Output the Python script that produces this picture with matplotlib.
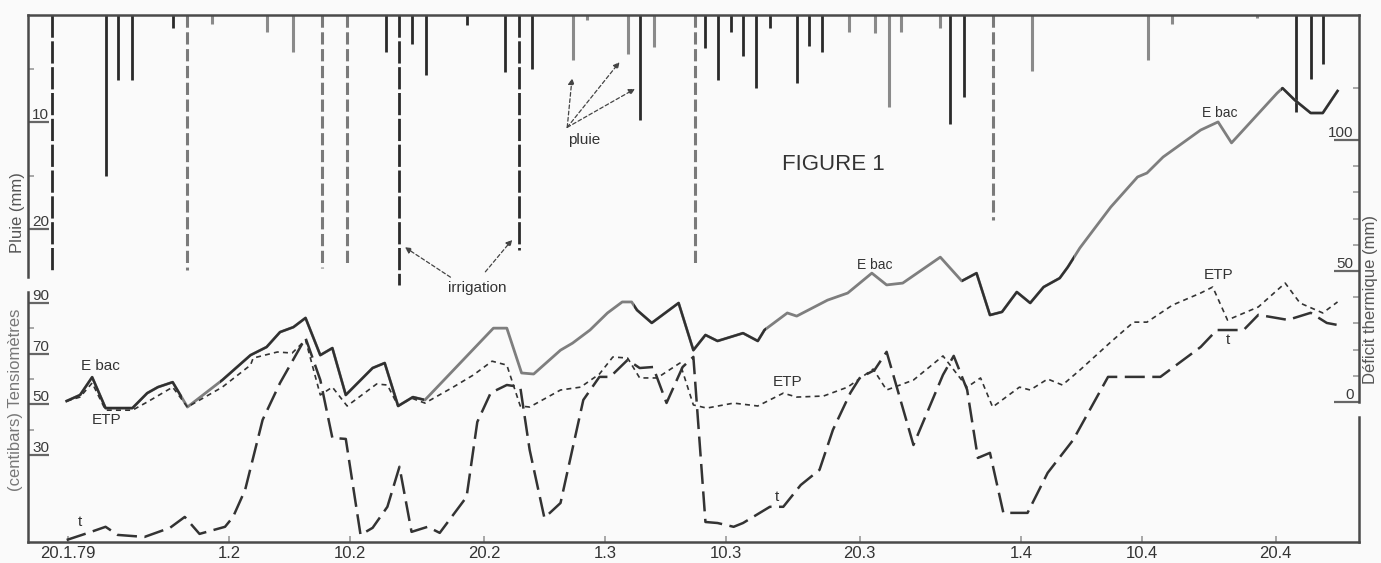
import matplotlib
matplotlib.use("Agg")
import matplotlib.pyplot as plt
from matplotlib.patches import Rectangle

plt.rcParams['font.family'] = ['Liberation Sans', 'DejaVu Sans']

# ---------------- data (x in days after 20.1.79) ----------------
tick_days = [0, 12, 21, 31, 40, 49, 59, 71, 80, 90]
tick_labels = ["20.1.79", "1.2", "10.2", "20.2", "1.3", "10.3", "20.3", "1.4", "10.4", "20.4"]

# rain (mm), dark bars
rain_dark_day = [2.8, 3.7, 4.8, 7.8, 23.7, 25.6, 26.7, 29.7, 32.6, 34.6, 42.6, 47.5, 48.4,
                 49.4, 50.3, 51.3, 52.3, 54.3, 55.2, 56.2, 65.7, 66.8, 91.5, 92.6, 93.5]
rain_dark_mm = [15.0, 6.1, 6.1, 1.2, 3.5, 2.7, 5.6, 0.9, 5.3, 5.0, 9.8, 3.1, 6.1,
                1.6, 3.8, 6.8, 1.2, 6.4, 2.9, 3.5, 10.2, 7.7, 9.1, 6.0, 4.6]
# rain (mm), grey bars
rain_grey_day = [10.7, 14.8, 16.8, 37.6, 38.7, 41.7, 43.7, 58.2, 60.1, 61.2, 62.1, 65.0,
                 71.8, 80.5, 82.3, 88.6]
rain_grey_mm = [0.8, 1.6, 3.5, 4.2, 0.5, 3.6, 3.0, 1.6, 1.7, 8.6, 1.6, 1.2,
                5.2, 4.2, 0.8, 0.3]
# irrigation (mm)
irrig_dark_day = [-1.2, 24.7, 33.6]
irrig_dark_mm = [23.8, 25.2, 22.0]
irrig_grey_day = [8.9, 18.9, 20.8, 46.7, 68.9]
irrig_grey_mm = [23.8, 23.6, 23.4, 23.2, 19.2]

# E bac cumulative deficit (mm)
ebac_day = [-0.1, 0.9, 1.8, 2.8, 4.8, 5.9, 6.7, 7.8, 8.9, 11.5, 13.6, 14.8, 15.8, 16.8, 17.7,
            18.8, 19.7, 20.7, 22.7, 23.6, 24.6, 25.7, 26.6, 31.7, 32.7, 33.8, 34.7, 36.7,
            37.6, 38.9, 40.2, 41.3, 42.0, 42.4, 43.5, 45.5, 46.6, 47.5, 48.4, 50.3, 51.4,
            51.9, 53.6, 54.3, 56.6, 58.1, 59.9, 61.0, 62.2, 65.0, 66.6, 67.7, 68.7, 69.6,
            70.7, 71.7, 72.7, 73.9, 74.5, 75.4, 76.4, 77.7, 79.7, 80.4, 81.6, 84.4, 85.7,
            86.7, 90.1, 90.5, 91.4, 92.6, 93.5, 94.6]
ebac_mm = [0.4, 2.7, 9.5, -2.3, -2.3, 3.4, 5.7, 7.6, -1.9, 8.4, 17.9, 21.0, 26.7, 28.6, 32.1,
           17.9, 20.6, 2.7, 13.0, 14.9, -1.5, 1.9, 0.8, 28.2, 28.2, 11.1, 10.7, 19.8,
           22.5, 27.5, 34.0, 38.2, 38.2, 35.1, 30.2, 37.8, 19.8, 25.6, 23.3, 26.3, 23.3,
           27.5, 34.0, 32.8, 38.9, 41.6, 49.2, 44.7, 45.4, 55.3, 46.2, 49.2, 33.2, 34.4,
           42.0, 37.8, 43.9, 47.3, 51.5, 58.8, 65.6, 74.4, 85.9, 87.4, 93.5, 103.8, 106.9,
           98.9, 117.9, 119.8, 115.3, 110.3, 110.3, 118.7]

# ETP cumulative deficit (mm)
etp_day = [-0.1, 0.9, 1.8, 2.8, 4.8, 5.9, 7.8, 8.9, 11.5, 13.6, 13.8, 15.6, 16.7, 17.7, 18.8,
           19.7, 20.8, 21.9, 23.0, 23.8, 24.6, 25.6, 26.6, 28.7, 30.2, 31.6, 32.7, 33.7,
           34.4, 36.7, 38.2, 39.6, 40.6, 41.7, 42.6, 43.9, 45.6, 46.6, 47.6, 49.6, 51.4,
           53.3, 54.3, 56.3, 58.1, 60.0, 61.0, 63.0, 65.2, 67.0, 68.0, 68.9, 70.9, 71.7,
           73.0, 74.1, 75.4, 77.7, 79.4, 80.4, 82.3, 84.4, 85.3, 86.4, 88.7, 90.7, 91.8,
           93.5, 94.6]
etp_mm = [0.4, 1.9, 7.3, -3.1, -3.1, 0.0, 5.7, -1.9, 5.7, 14.1, 16.8, 19.1, 18.7, 23.7, 2.7,
          5.7, -1.5, 2.7, 6.9, 6.5, -1.5, 1.5, -0.4, 5.7, 10.3, 15.6, 14.1, -1.5,
          -1.9, 4.6, 5.7, 10.7, 17.2, 16.8, 9.2, 9.2, 14.9, -1.1, -2.3, -0.4, -1.5,
          3.4, 1.9, 2.3, 5.7, 12.6, 4.6, 8.4, 17.6, 5.7, 9.2, -1.9, 5.7, 4.6,
          8.8, 6.5, 12.2, 22.9, 30.5, 30.5, 37.0, 41.6, 43.9, 31.3, 36.3, 45.4, 37.8,
          34.0, 38.2]

# tensiometer t (centibars)
t_day = [-0.1, 1.5, 2.8, 3.7, 5.7, 7.6, 8.7, 9.8, 11.7, 12.3, 13.2, 14.5, 15.8, 17.7, 18.8,
         19.7, 20.7, 21.8, 22.7, 23.8, 24.7, 25.6, 26.8, 27.7, 29.7, 30.5, 31.5, 32.7,
         33.7, 34.4, 35.5, 36.7, 38.4, 39.6, 40.4, 41.7, 42.6, 43.6, 44.6, 45.8, 46.6,
         47.5, 48.4, 49.6, 50.3, 52.3, 53.3, 54.6, 56.0, 57.0, 58.3, 59.0, 60.1, 61.0,
         63.0, 65.2, 66.0, 67.0, 67.8, 68.7, 69.7, 71.5, 73.0, 74.9, 77.5, 81.4, 84.4,
         85.6, 87.6, 88.7, 90.9, 92.6, 93.8, 94.6]
t_cb = [-3.6, -0.8, 1.6, -1.6, -2.4, 1.2, 5.5, -1.2, 1.6, 5.5, 16.2, 43.8, 58.4, 76.2, 59.6,
        36.7, 36.3, -1.6, 1.2, 9.5, 25.3, -0.4, 1.6, -0.8, 13.4, 43.0, 54.5, 57.6,
        56.8, 32.0, 5.1, 11.0, 51.7, 60.8, 60.8, 67.5, 64.3, 64.7, 50.5, 64.7, 68.7,
        3.5, 3.1, 1.6, 3.1, 9.5, 9.5, 18.1, 24.1, 39.9, 54.5, 60.4, 63.5, 70.7,
        33.9, 61.6, 69.1, 55.7, 28.8, 30.8, 7.1, 7.1, 22.9, 35.9, 60.8, 60.8, 72.6,
        79.3, 79.3, 85.3, 83.3, 86.1, 82.1, 81.3]

# day spans where the scanned E bac curve is printed sharp (dark) rather than blurred grey
ebac_dark_spans = [(-3.0, 8.5), (11.3, 26.5), (42.2, 52.0), (66.6, 75.0), (90.4, 97.0)]

# ---------------- figure ----------------
W, H = 1381, 563
fig = plt.figure(figsize=(W / 100, H / 100), dpi=100, facecolor='#fafafa')
x0, x1, y0, y1 = 28, 1359, 15, 542
ax = fig.add_axes([x0 / W, 1 - y1 / H, (x1 - x0) / W, (y1 - y0) / H])
ax.set_facecolor('none')
ax.set_xlim(-2.98, 96.2)
ax.set_ylim(49.25, 0)                 # rain axis (mm), downward from the top
axt = ax.twinx()
axt.set_ylim(-4.4, 203.7)             # tensiometers (centibars)
axd = ax.twinx()
axd.set_ylim(-53.4, 147.7)            # thermal deficit (mm)

spc = '#4a4a4a'
for a in (ax, axt, axd):
    for s in a.spines.values():
        s.set_visible(False)
        s.set_color(spc)
        s.set_linewidth(1.8)
ax.spines['top'].set_visible(True)
ax.spines['bottom'].set_visible(True)
ax.spines['left'].set_visible(True)
ax.spines['left'].set_bounds(0, 24.5)
axt.spines['left'].set_visible(True)
axt.spines['left'].set_bounds(-4.4, 94.3)
axt.spines['right'].set_visible(True)
axt.spines['right'].set_bounds(-4.4, 45.0)
axd.spines['right'].set_visible(True)
axd.spines['right'].set_bounds(0, 147.7)

# x ticks
ax.set_xticks(tick_days)
ax.set_xticklabels(tick_labels, fontsize=12, color='#333333')
ax.tick_params(axis='x', direction='in', length=4, width=1.2, color='#999999', pad=3, top=False)

tc = '#666666'
# rain axis ticks
ax.yaxis.set_ticks_position('left')
ax.set_yticks([10, 20])
ax.set_yticks([5, 15], minor=True)
ax.tick_params(axis='y', which='major', direction='in', length=15, width=1.6, color=tc, labelleft=False)
ax.tick_params(axis='y', which='minor', direction='in', length=4, width=1.2, color='#999999')
# tensiometer ticks
axt.yaxis.set_ticks_position('left')
axt.set_yticks([30, 50, 70, 90])
axt.set_yticks([40, 60, 80], minor=True)
axt.tick_params(axis='y', which='major', direction='in', length=15, width=1.6, color=tc,
                labelleft=False, labelright=False)
axt.tick_params(axis='y', which='minor', direction='in', length=4, width=1.2, color='#999999')
# deficit ticks
axd.yaxis.set_ticks_position('right')
axd.set_yticks([0, 50, 100])
axd.set_yticks([10, 20, 30, 40, 60, 70, 80, 90, 120], minor=True)
axd.tick_params(axis='y', which='major', direction='in', length=18, width=1.6, color=tc,
                labelright=False, labelleft=False)
axd.tick_params(axis='y', which='minor', direction='in', length=4, width=1.2, color='#999999')

lab = dict(fontsize=11, color='#3a3a3a')
for v in [10, 20]:
    ax.annotate(str(v), xy=(0, v), xycoords=ax.get_yaxis_transform(), xytext=(3, 0),
                textcoords='offset points', ha='left', va='bottom', **lab)
for v in [30, 50, 70, 90]:
    axt.annotate(str(v), xy=(0, v), xycoords=axt.get_yaxis_transform(), xytext=(3, 0),
                 textcoords='offset points', ha='left', va='bottom', **lab)
for v in [0, 50, 100]:
    axd.annotate(str(v), xy=(1, v), xycoords=axd.get_yaxis_transform(), xytext=(-4, 0),
                 textcoords='offset points', ha='right', va='bottom', **lab)

# axis titles
fig.text(18 / W, 1 - 213 / H, "Pluie (mm)", rotation=90, ha='center', va='center',
         fontsize=12, color='#555555')
fig.text(16 / W, 1 - 400 / H, "(centibars) Tensiomètres", rotation=90, ha='center', va='center',
         fontsize=12, color='#777777')
fig.text(1371 / W, 1 - 300 / H, "Déficit thermique (mm)", rotation=90, ha='center', va='center',
         fontsize=12, color='#555555')

# ---------------- rain & irrigation ----------------
ax.vlines(rain_dark_day, 0, rain_dark_mm, color='#2a2a2a', linewidth=2.0)
ax.vlines(rain_grey_day, 0, rain_grey_mm, color='#8a8a8a', linewidth=2.2)
ax.vlines(irrig_dark_day, 0, irrig_dark_mm, color='#2a2a2a', linewidth=2.0, linestyles=(0, (8, 1.3)))
ax.vlines(irrig_grey_day, 0, irrig_grey_mm, color='#7a7a7a', linewidth=2.2, linestyles=(0, (4, 1.5)))

# ---------------- curves ----------------
axd.plot(ebac_day, ebac_mm, color='#7e7e7e', linewidth=2.0)
for a, b in ebac_dark_spans:
    ln, = axd.plot(ebac_day, ebac_mm, color='#303030', linewidth=1.7)
    ln.set_clip_path(Rectangle((a, -60), b - a, 220, transform=axd.transData))
axd.plot(etp_day, etp_mm, color='#333333', linewidth=1.2, dashes=(3, 2.5))
axt.plot(t_day, t_cb, color='#333333', linewidth=1.8, dashes=(8, 3))

# ---------------- annotations ----------------
txt = dict(color='#333333', ha='center', va='center')
ax.text(57.0, 14.0, "FIGURE 1", fontsize=16, **txt)
ax.text(38.5, 11.7, "pluie", fontsize=11, **txt)
arr = dict(arrowstyle='-|>', linestyle=(0, (3, 2)), color='#444444', lw=0.9,
           mutation_scale=9, shrinkA=0, shrinkB=0)
for hx, hy in [(37.56, 5.9), (41.1, 4.4), (42.25, 6.9)]:
    ax.annotate("", xy=(hx, hy), xytext=(37.2, 10.5), arrowprops=arr)
ax.text(30.5, 25.5, "irrigation", fontsize=11, **txt)
ax.annotate("", xy=(25.1, 21.7), xytext=(28.5, 24.5), arrowprops=arr)
ax.annotate("", xy=(33.1, 21.0), xytext=(31.1, 24.0), arrowprops=arr)

axd.text(2.4, 13.7, "E bac", fontsize=11, **txt)
axd.text(2.9, -6.9, "ETP", fontsize=11, **txt)
axd.text(60.1, 52.3, "E bac", fontsize=10, **txt)
axd.text(85.8, 110.3, "E bac", fontsize=10, **txt)
axd.text(53.6, 7.6, "ETP", fontsize=11, **txt)
axd.text(85.7, 48.5, "ETP", fontsize=11, **txt)
axt.text(0.9, 3.5, "t", fontsize=11, **txt)
axt.text(52.8, 13.4, "t", fontsize=11, **txt)
axt.text(86.4, 75.4, "t", fontsize=11, **txt)

fig.savefig("out.png", dpi=100, facecolor=fig.get_facecolor())
